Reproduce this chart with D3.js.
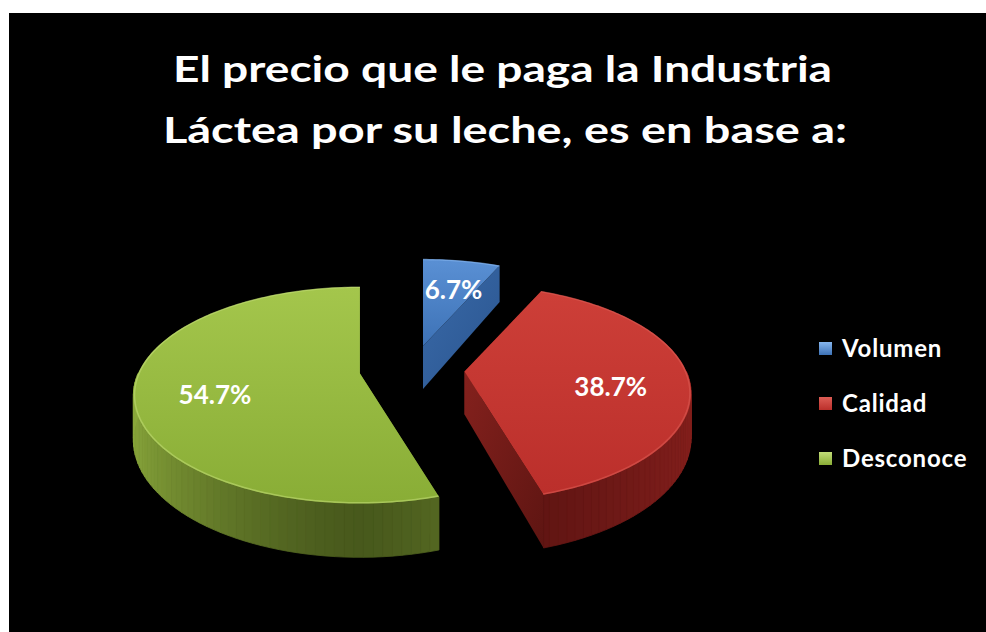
<!DOCTYPE html>
<html>
<head>
<meta charset="utf-8">
<script src="https://cdn.jsdelivr.net/npm/d3@7"></script>
<style>
  html, body { margin: 0; padding: 0; background: #000000; overflow: hidden; }
  svg { display: block; }
</style>
</head>
<body>
<svg id="chart" width="986" height="632"></svg>
<script>
// ---- data ----
const categories = ["Volumen", "Calidad", "Desconoce"];
const values = [6.7, 38.7, 54.7];
const valueLabels = ["6.7%", "38.7%", "54.7%"];
const titleLines = ["El precio que le paga la Industria", "Láctea por su leche, es en base a:"];

// ---- styling ----
const FONT = "Lato, 'Open Sans', 'DejaVu Sans', sans-serif";
const colors = {
  Volumen:   { top: ["#5a90d4", "#3d72b6"], side: "#3d6fae", front: "#28528a", cut: ["#3a6aa8", "#2a5590"], rim: "#86b6ee" },
  Calidad:   { top: ["#cd3f38", "#bb2f2b"], side: "#86201d", front: "#5a1311", cut: ["#84211d", "#5e1512"], rim: "#dd5d55" },
  Desconoce: { top: ["#a4c64c", "#89ad36"], side: "#8aa83c", front: "#48591c", cut: ["#6d8a2c", "#4b5f1e"], rim: "#c2dc78" }
};

// 3D pie geometry: centre, ellipse radii, wall depth, perspective, explosion
const geo = { cx: 412, cy: 370, rx: 222, ry: 104, depth: 43, persp: 0.2, explode: 0.237, labelR: 0.66 };

const W = 986, H = 632;
const svg = d3.select("#chart");
const defs = svg.append("defs");

// black panel with a white margin on the top and left
svg.append("rect").attr("x", 0).attr("y", 0).attr("width", W).attr("height", H).attr("fill", "#000");
svg.append("rect").attr("x", 0).attr("y", 0).attr("width", W).attr("height", 13).attr("fill", "#fff");
svg.append("rect").attr("x", 0).attr("y", 0).attr("width", 9).attr("height", H).attr("fill", "#fff");

// ---- title ----
const titleWidths = [659, 684];
const titleCenters = [502.5, 505];
const titleBase = [82, 143];
titleLines.forEach((t, i) => {
  svg.append("text")
    .attr("x", titleCenters[i]).attr("y", titleBase[i])
    .attr("text-anchor", "middle")
    .attr("font-family", FONT).attr("font-weight", 700).attr("font-size", 37)
    .attr("fill", "#ffffff")
    .attr("textLength", titleWidths[i]).attr("lengthAdjust", "spacingAndGlyphs")
    .text(t);
});

// ---- pie layout ----
const pie = d3.pie().sort(null).value(d => d.value).startAngle(0).endAngle(2 * Math.PI);
const arcs = pie(categories.map((c, i) => ({ cat: c, value: values[i], label: valueLabels[i] })));

function mid(d) { return (d.startAngle + d.endAngle) / 2; }
function apexOf(d) {
  const m = mid(d);
  return [geo.cx + geo.rx * geo.explode * Math.sin(m), geo.cy - geo.ry * geo.explode * Math.cos(m)];
}
// point of a slice at angle a, radius fraction rho, height h (0 = top, 1 = bottom)
function project(d, a, rho, h) {
  const [ax, ay] = apexOf(d);
  const u = rho * Math.sin(a), v = -rho * Math.cos(a);
  const s = 1 / (1 - geo.persp * v);
  return [ax + geo.rx * u * s, ay + geo.ry * v * s + geo.depth * h * s];
}
function angles(a0, a1, step) {
  const out = [];
  for (let a = a0; a < a1; a += step) out.push(a);
  out.push(a1);
  return out;
}
const line = d3.line();
const STEP = Math.PI / 180;

// gradients
arcs.forEach((d, i) => {
  const c = colors[d.data.cat];
  const gt = defs.append("linearGradient").attr("id", "top" + i).attr("x1", 0).attr("y1", 0).attr("x2", 0).attr("y2", 1);
  gt.append("stop").attr("offset", "0%").attr("stop-color", c.top[0]);
  gt.append("stop").attr("offset", "100%").attr("stop-color", c.top[1]);
  const gc = defs.append("linearGradient").attr("id", "cut" + i).attr("x1", 0).attr("y1", 0).attr("x2", 1).attr("y2", 1);
  gc.append("stop").attr("offset", "0%").attr("stop-color", c.cut[0]);
  gc.append("stop").attr("offset", "100%").attr("stop-color", c.cut[1]);
  const gl = defs.append("linearGradient").attr("id", "key" + i).attr("x1", 0).attr("y1", 0).attr("x2", 0).attr("y2", 1);
  gl.append("stop").attr("offset", "0%").attr("stop-color", c.rim);
  gl.append("stop").attr("offset", "100%").attr("stop-color", c.top[1]);
});

// draw slices from back to front
const order = arcs.map((d, i) => i).sort((a, b) => apexOf(arcs[a])[1] - apexOf(arcs[b])[1]);
const gPie = svg.append("g");

order.forEach(i => {
  const d = arcs[i];
  const c = colors[d.data.cat];
  const g = gPie.append("g");

  // radial cut faces
  [d.startAngle, d.endAngle].forEach(a => {
    const pts = [project(d, a, 0, 0), project(d, a, 1, 0), project(d, a, 1, 1), project(d, a, 0, 1)];
    g.append("path").attr("d", line(pts) + "Z").attr("fill", `url(#cut${i})`);
  });

  // outer curved wall (front half only), shaded by angle
  const lo = Math.max(d.startAngle, Math.PI / 2), hi = Math.min(d.endAngle, 3 * Math.PI / 2);
  if (hi > lo) {
    const shade = d3.interpolateRgb(c.front, c.side);
    const as = angles(lo, hi, STEP * 2);
    for (let k = 0; k < as.length - 1; k++) {
      const a0 = as[k], a1 = as[k + 1];
      const t = Math.pow(Math.abs(Math.sin((a0 + a1) / 2)), 1.4);
      const col = shade(t);
      const pts = [project(d, a0, 1, 0), project(d, a1, 1, 0), project(d, a1, 1, 1), project(d, a0, 1, 1)];
      g.append("path").attr("d", line(pts) + "Z").attr("fill", col).attr("stroke", col).attr("stroke-width", 0.8);
    }
  }

  // top face
  const topPts = [project(d, 0, 0, 0)].concat(angles(d.startAngle, d.endAngle, STEP).map(a => project(d, a, 1, 0)));
  g.append("path").attr("d", line(topPts) + "Z").attr("fill", `url(#top${i})`);
  // light rim along the outer edge
  g.append("path")
    .attr("d", line(angles(d.startAngle, d.endAngle, STEP).map(a => project(d, a, 0.995, 0))))
    .attr("fill", "none").attr("stroke", c.rim).attr("stroke-opacity", 0.55).attr("stroke-width", 1.5);

  // value label
  const [ax, ay] = apexOf(d);
  const m = mid(d);
  g.append("text")
    .attr("x", ax + geo.rx * geo.labelR * Math.sin(m))
    .attr("y", ay - geo.ry * geo.labelR * Math.cos(m) + 10)
    .attr("text-anchor", "middle").attr("dominant-baseline", "central")
    .attr("font-family", FONT).attr("font-weight", 700).attr("font-size", 26)
    .attr("fill", "#ffffff")
    .text(d.data.label);
});

// ---- legend ----
const legendY = d3.scalePoint().domain(categories).range([357, 467]);
const gLeg = svg.append("g");
arcs.forEach((d, i) => {
  const y = legendY(d.data.cat);
  gLeg.append("rect").attr("x", 819).attr("y", y - 15).attr("width", 13).attr("height", 13).attr("fill", `url(#key${i})`);
  gLeg.append("text").attr("x", 842).attr("y", y)
    .attr("font-family", FONT).attr("font-weight", 700).attr("font-size", 24)
    .attr("letter-spacing", 0.8)
    .attr("fill", "#ffffff").text(d.data.cat);
});
</script>
</body>
</html>
